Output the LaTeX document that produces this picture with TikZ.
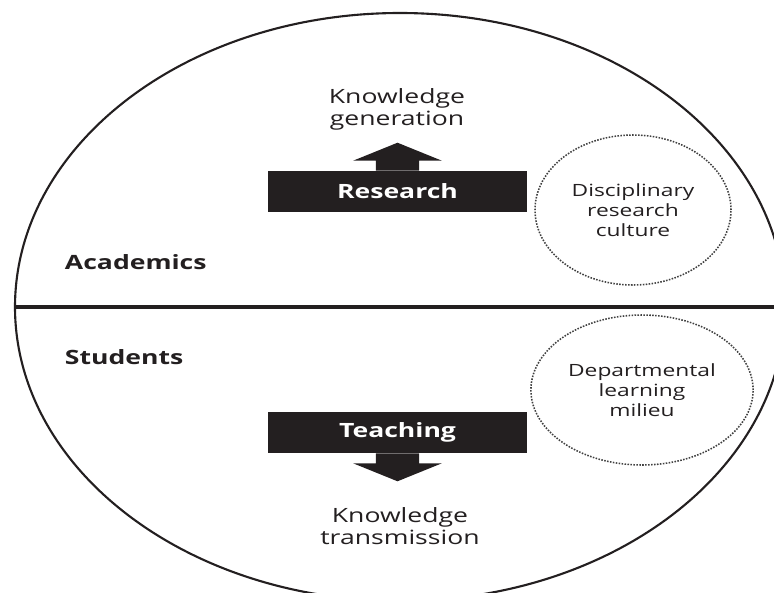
\documentclass[tikz,border=0pt]{standalone}
\usepackage{fontspec}
\setmainfont{Open Sans}[FakeStretch=1.35]
\usepackage{xcolor}
\usetikzlibrary{shapes.geometric}

\definecolor{ink}{HTML}{231F20}

\begin{document}
\begin{tikzpicture}[
        lbl/.style={align=center, text=ink, font=\fontsize{14}{15.6}\selectfont},
        side/.style={anchor=west, text=ink, font=\fontsize{14}{15.6}\selectfont\bfseries},
        bar/.style={fill=ink, text=white, inner sep=0pt, minimum width=6.475cm, minimum height=1.025cm, font=\fontsize{14}{15.6}\selectfont\bfseries},
        milieu/.style={ellipse, draw=black!75, densely dotted, line width=1.1pt, minimum width=4.9cm, minimum height=3.75cm, align=center, text=ink, font=\fontsize{12}{14}\selectfont}
    ]
        \useasboundingbox (0,0) rectangle (19.35,14.8);

        % Outer ellipse and divider
        \node[draw=ink, ellipse, line width=1.5pt, minimum width=19.25cm, minimum height=14.7cm] (campus) at (10,7.125) {};
        \draw[ink, line width=2.6pt] (campus.west) -- (campus.east);

        % Upper half
        \node[lbl] (generation) at (9.925,12.075) {Knowledge\\generation};
        \node[bar] (research) at (9.9375,10.0125) {Research};
        \fill[ink] ([xshift=-0.54cm]research.north) -- ++(0,0.25) -- ++(-0.57,0) -- ++(1.11,0.45) -- ++(1.11,-0.45) -- ++(-0.57,0) -- ++(0,-0.25) -- cycle;
        \node[milieu] (culture) at (15.825,9.55) {Disciplinary\\research\\culture};
        \node[side] (academics) at (1.5,8.25) {Academics};

        % Lower half
        \node[side] (students) at (1.5,5.875) {Students};
        \node[milieu] (learning) at (16.05,5.05) {Departmental\\learning\\milieu};
        \node[bar] (teaching) at (9.9375,3.9875) {Teaching};
        \fill[ink] ([xshift=-0.54cm]teaching.south) -- ++(0,-0.25) -- ++(-0.57,0) -- ++(1.11,-0.45) -- ++(1.11,0.45) -- ++(-0.57,0) -- ++(0,0.25) -- cycle;
        \node[lbl] (transmission) at (10,1.65) {Knowledge\\transmission};
    \end{tikzpicture}
\end{document}
